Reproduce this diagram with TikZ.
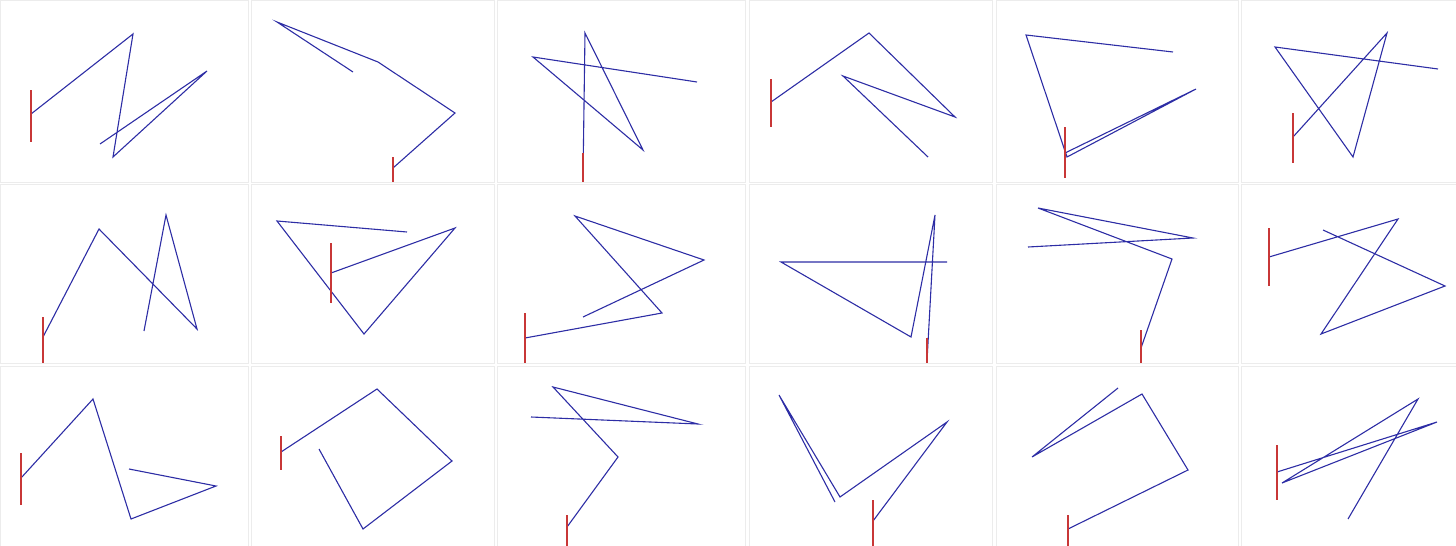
\documentclass[tikz,border=0pt]{standalone}
\usepackage{tikz}
\usetikzlibrary{positioning,calc}
\definecolor{tracecol}{RGB}{45,45,165}
\definecolor{stubcol}{RGB}{200,55,55}

\begin{document}
\begin{tikzpicture}[x=1pt, y=-1pt,
          trace/.style={tracecol, line width=1.1pt, line join=miter},
          stub/.style={stubcol, line width=1.3pt},
          frame/.style={gray!15, line width=0.8pt}
        ]
          \useasboundingbox (0,0) rectangle (1456,546);

          % Rahmen der Felder
          \foreach \xa/\xb in {0/248, 251/494, 497/745, 749/992, 996/1238, 1241/1456}
            \foreach \ya/\yb in {0/182, 184/363, 366/546}
              \draw[frame] (\xa,\ya) rectangle (\xb,\yb);

          % Zeile 1
          \draw[trace] (31,114) -- (133,34) -- (113,157) -- (207,71) -- (100,144);
          \draw[stub] (31,90) -- (31,142);

          \draw[trace] (393,168) -- (455,113) -- (378,62) -- (277,22) -- (353,72);
          \draw[stub] (393,157) -- (393,182);

          \draw[trace] (583,178) -- (585,33) -- (643,150) -- (533,57) -- (697,82);
          \draw[stub] (583,153) -- (583,182);

          \draw[trace] (771,102) -- (869,33) -- (955,117) -- (843,76) -- (928,157);
          \draw[stub] (771,79) -- (771,127);

          \draw[trace] (1065,153) -- (1196,89) -- (1067,157) -- (1026,35) -- (1173,52);
          \draw[stub] (1065,127) -- (1065,178);

          \draw[trace] (1293,137) -- (1387,33) -- (1353,157) -- (1275,47) -- (1438,69);
          \draw[stub] (1293,113) -- (1293,163);

          % Zeile 2
          \draw[trace] (43,337) -- (99,229) -- (197,329) -- (166,215) -- (144,331);
          \draw[stub] (43,317) -- (43,363);

          \draw[trace] (331,273) -- (455,228) -- (364,334) -- (277,221) -- (407,232);
          \draw[stub] (331,243) -- (331,303);

          \draw[trace] (525,338) -- (662,313) -- (575,216) -- (704,260) -- (583,317);
          \draw[stub] (525,313) -- (525,363);

          \draw[trace] (927,361) -- (935,215) -- (911,337) -- (781,262) -- (947,262);
          \draw[stub] (927,338) -- (927,363);

          \draw[trace] (1141,348) -- (1172,259) -- (1038,208) -- (1193,238) -- (1028,247);
          \draw[stub] (1141,330) -- (1141,363);

          \draw[trace] (1269,257) -- (1398,219) -- (1321,334) -- (1445,286) -- (1323,230);
          \draw[stub] (1269,228) -- (1269,286);

          % Zeile 3
          \draw[trace] (21,478) -- (93,399) -- (131,519) -- (216,486) -- (129,469);
          \draw[stub] (21,453) -- (21,505);

          \draw[trace] (281,452) -- (377,389) -- (452,461) -- (363,529) -- (319,449);
          \draw[stub] (281,436) -- (281,470);

          \draw[trace] (567,527) -- (618,457) -- (553,387) -- (698,424) -- (531,417);
          \draw[stub] (567,515) -- (567,546);

          \draw[trace] (873,521) -- (947,422) -- (840,497) -- (779,395) -- (835,502);
          \draw[stub] (873,500) -- (873,546);

          \draw[trace] (1068,529) -- (1188,470) -- (1142,394) -- (1032,457) -- (1118,388);
          \draw[stub] (1068,515) -- (1068,546);

          \draw[trace] (1277,472) -- (1437,422) -- (1282,483) -- (1418,399) -- (1348,519);
          \draw[stub] (1277,445) -- (1277,500);
        \end{tikzpicture}
\end{document}
